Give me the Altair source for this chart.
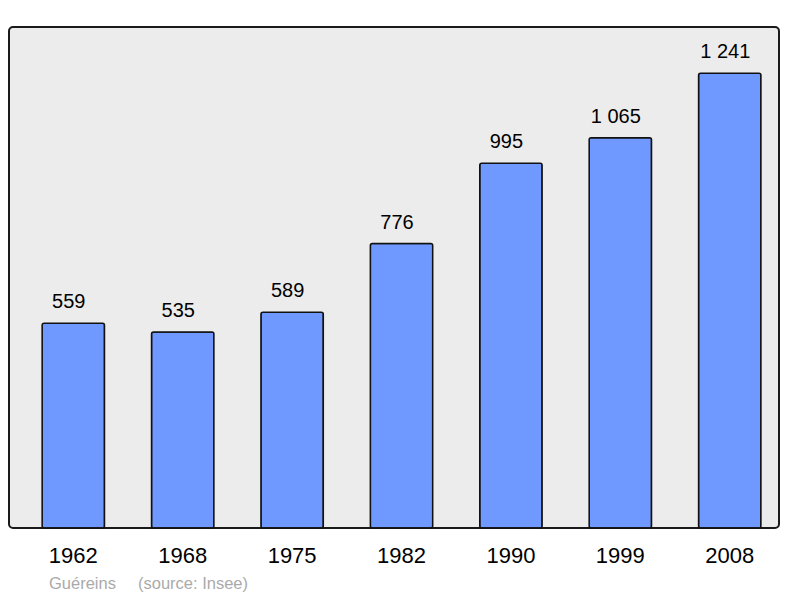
import altair as alt
import pandas as pd

years = ["1962", "1968", "1975", "1982", "1990", "1999", "2008"]
population = [559, 535, 589, 776, 995, 1065, 1241]
town = "Guéreins"
source = "(source: Insee)"

df = pd.DataFrame({"year": years, "pop": population})
# French style thousands separator: "1 241"
df["label"] = [f"{v:,}".replace(",", " ") for v in population]

x_enc = alt.X(
    "year:N",
    title=None,
    sort=years,
    scale=alt.Scale(paddingInner=0.43, paddingOuter=0.234, align=0.647),
    axis=alt.Axis(
        domain=False,
        ticks=False,
        labelAngle=0,
        labelFontSize=22,
        labelColor="#000000",
        labelPadding=17,
        labelFont="Liberation Sans",
    ),
)
y_enc = alt.Y("pop:Q", scale=alt.Scale(domain=[0, 1367], nice=False), axis=None)

bars = (
    alt.Chart(df)
    .mark_bar(color="#7099ff", stroke="#111111", strokeWidth=1.5, cornerRadius=2)
    .encode(x=x_enc, y=y_enc)
)

labels = (
    alt.Chart(df)
    .mark_text(
        baseline="alphabetic",
        dx=-4.5,
        dy=-15,
        fontSize=20,
        font="Liberation Sans",
        color="#000000",
    )
    .encode(x=x_enc, y=y_enc, text="label:N")
)


def caption(text, xpos):
    return (
        alt.Chart(pd.DataFrame({"t": [text]}))
        .mark_text(
            align="left",
            baseline="alphabetic",
            fontSize=16.5,
            font="Liberation Sans",
            color="#aaaaaa",
        )
        .encode(text="t:N", x=alt.value(xpos), y=alt.value(562))
    )


chart = (
    alt.layer(bars, labels, caption(town, 40), caption(source, 129))
    .properties(
        width=770,
        height=501,
        autosize=alt.AutoSizeParams(type="none"),
        padding={"left": 1, "top": 19, "right": 10, "bottom": 70},
        background="white",
    )
    .configure_view(fill="#ececec", stroke="#1a1a1a", strokeWidth=2, cornerRadius=4)
)

chart.save("out.html", embed_options={"renderer": "svg", "actions": False})
